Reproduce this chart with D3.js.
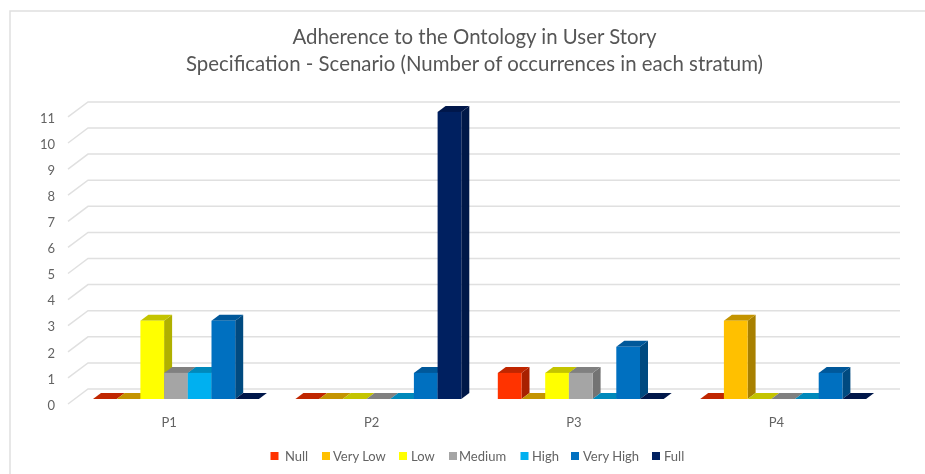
<!DOCTYPE html>
<html>
<head>
<meta charset="utf-8">
<script src="https://cdn.jsdelivr.net/npm/d3@7"></script>
<style>
html, body { margin: 0; padding: 0; background: #fff; }
svg { display: block; filter: blur(0.45px); }
text { font-family: Lato, "Open Sans", sans-serif; fill: #636363; }
</style>
</head>
<body>
<svg id="chart" width="925" height="474"></svg>
<script>
const participants = ['P1', 'P2', 'P3', 'P4'];
const strata = ['Null', 'Very Low', 'Low', 'Medium', 'High', 'Very High', 'Full'];
const yTicks = [0, 1, 2, 3, 4, 5, 6, 7, 8, 9, 10, 11];

// occurrences per participant, one list per stratum
const nullValues = [0, 0, 1, 0];
const veryLowValues = [0, 0, 0, 3];
const lowValues = [3, 0, 1, 0];
const mediumValues = [1, 0, 1, 0];
const highValues = [1, 0, 0, 0];
const veryHighValues = [3, 1, 2, 1];
const fullValues = [0, 11, 0, 0];
const seriesValues = [nullValues, veryLowValues, lowValues, mediumValues, highValues, veryHighValues, fullValues];

const frontColors = ['#ff3300', '#ffc000', '#ffff00', '#a5a5a5', '#00b0f0', '#0070c0', '#002060'];
const topColors = ['#c02600', '#c49400', '#c4c400', '#808080', '#0089bb', '#00589a', '#00174a'];
const sideColors = ['#a82000', '#a88000', '#b0b000', '#737373', '#007aa6', '#004a80', '#001848'];

const svg = d3.select('#chart');

const depthX = 8, depthY = 6;      // bar depth
const wallX = 20, wallY = 15;      // left wall slant
const backOffset = 10;             // back wall sits this far above the front
const floorY = 399, plotLeft = 68;

const x = d3.scaleBand().domain(participants).range([plotLeft, plotLeft + 4 * 202.4]);
const inner = d3.scaleBand().domain(strata).range([25, 25 + 7 * 23.7]);
const y = d3.scaleLinear().domain([0, 11]).range([floorY, floorY - 11 * 26.1]);

// frame, only top and left show
svg.append('path')
    .attr('d', 'M10,474V11H925')
    .attr('fill', 'none')
    .attr('stroke', '#e0e0e0')
    .attr('stroke-width', 1.5);

// title
const title = svg.append('text')
    .attr('text-anchor', 'middle')
    .style('font-size', '20.4px')
    .style('fill', '#565656');
title.append('tspan').attr('x', 474.5).attr('y', 44).text('Adherence to the Ontology in User Story');
title.append('tspan').attr('x', 474.5).attr('y', 71).text('Specification - Scenario (Number of occurrences in each stratum)');

// gridlines, back wall and the slanted bit on the left wall
const grid = svg.append('g').attr('fill', 'none').attr('stroke', '#e0e0e0').attr('stroke-width', 1.5);
yTicks.forEach(t => {
    const back = y(t) - backOffset;
    grid.append('path')
        .attr('d', 'M' + plotLeft + ',' + (back + wallY) + 'L' + (plotLeft + wallX) + ',' + back + 'L900,' + back);
});

// y labels
svg.append('g').selectAll('text')
    .data(yTicks)
    .enter()
    .append('text')
    .attr('x', 55)
    .attr('y', t => y(t) + 10.7)
    .attr('text-anchor', 'end')
    .style('font-size', '13px')
    .text(t => t);

// bars
const bars = svg.append('g');
participants.forEach((p, i) => {
    strata.forEach((s, j) => {
        const x0 = x(p) + inner(s);
        const x1 = x0 + inner.bandwidth();
        const top = y(seriesValues[j][i]);
        const bottom = y(0);
        const g = bars.append('g').attr('class', 'bar');
        g.append('polygon')
            .attr('points', [[x1, top], [x1 + depthX, top - depthY], [x1 + depthX, bottom - depthY], [x1, bottom]].join(' '))
            .attr('fill', sideColors[j]);
        g.append('polygon')
            .attr('points', [[x0, top], [x0 + depthX, top - depthY], [x1 + depthX, top - depthY], [x1, top]].join(' '))
            .attr('fill', topColors[j]);
        g.append('rect')
            .attr('x', x0)
            .attr('y', top)
            .attr('width', inner.bandwidth())
            .attr('height', bottom - top)
            .attr('fill', frontColors[j]);
    });
});

// category labels
svg.append('g').selectAll('text')
    .data(participants)
    .enter()
    .append('text')
    .attr('x', p => x(p) + x.bandwidth() / 2)
    .attr('y', 427)
    .attr('text-anchor', 'middle')
    .style('font-size', '13px')
    .text(p => p);

// legend
const legendX = [270.5, 322, 399, 449, 520.5, 571, 652];
const legendTextX = [285, 333, 411, 459, 532, 583, 664];
const legend = svg.append('g').selectAll('g')
    .data(strata)
    .enter()
    .append('g');
legend.append('rect')
    .attr('x', (s, j) => legendX[j])
    .attr('y', 452).attr('width', 8).attr('height', 8)
    .attr('fill', (s, j) => frontColors[j]);
legend.append('text')
    .attr('x', (s, j) => legendTextX[j])
    .attr('y', 460.5)
    .style('font-size', '13px')
    .text(s => s);
</script>
</body>
</html>
